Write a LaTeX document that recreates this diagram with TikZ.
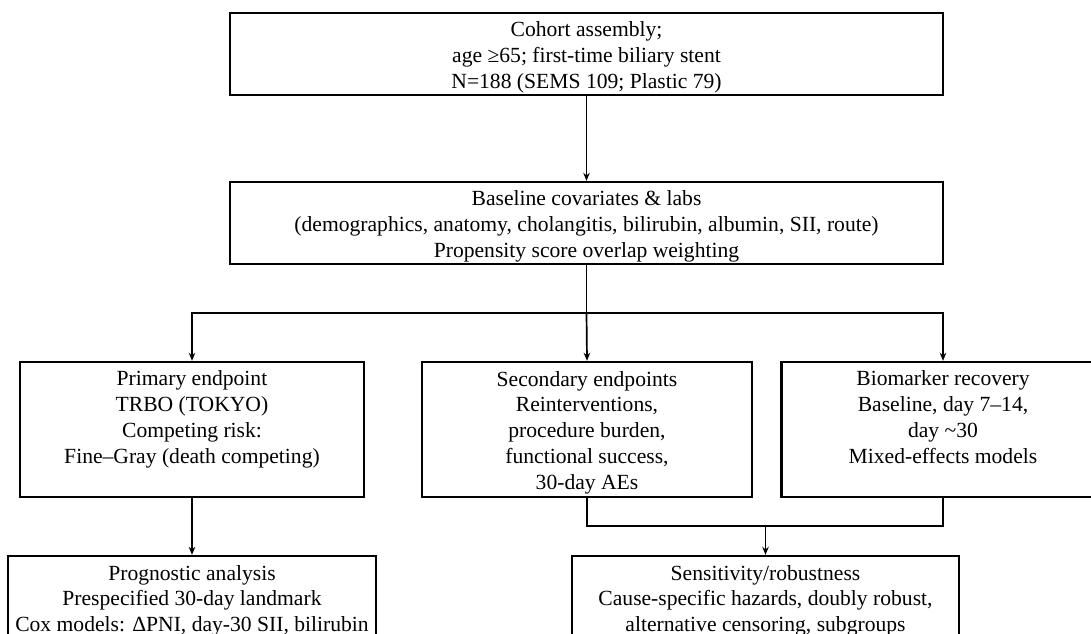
\documentclass[tikz,border=0pt]{standalone}
\usepackage{fontspec}
\setmainfont{Liberation Serif}
\usetikzlibrary{arrows.meta}
\begin{document}
\begin{tikzpicture}[x=1pt,y=-1pt,
  box/.style={draw, line width=2.4pt, rectangle, inner sep=0pt},
  txt/.style={align=center, font=\fontsize{21.6}{25.8}\selectfont, inner sep=0pt, anchor=north, yshift=-10pt},
  conn/.style={line width=1.7pt},
  arr/.style={conn, -{Stealth[length=8pt,width=6.5pt]}}]
\useasboundingbox (0,0) rectangle (1091,633);
\clip (0,0) rectangle (1091,633);
% boxes
\node[box, minimum width=713pt, minimum height=82pt] (cohort) at (586.5,54) {};
\node[box, minimum width=713pt, minimum height=82pt] (base) at (586.5,223) {};
\node[box, minimum width=344.5pt, minimum height=135pt] (prim) at (192,429.5) {};
\node[box, minimum width=329.5pt, minimum height=135pt] (sec) at (587,429.5) {};
\node[box, minimum width=323pt, minimum height=135pt] (bio) at (943,429.5) {};
\node[box, minimum width=368pt, minimum height=150pt] (prog) at (192,631) {};
\node[box, minimum width=387pt, minimum height=150pt] (sens) at (765.5,631) {};
% texts
\node[txt] (tcohort) at (cohort.north) {Cohort assembly;\\age ≥65; first-time biliary stent\\N=188 (SEMS 109; Plastic 79)};
\node[txt] (tbase) at (base.north) {Baseline covariates \& labs\\(demographics, anatomy, cholangitis, bilirubin, albumin, SII, route)\\Propensity score overlap weighting};
\node[txt] (tprim) at (prim.north) {Primary endpoint\\TRBO (TOKYO)\\Competing risk:\\Fine–Gray (death competing)};
\node[txt] (tsec) at (sec.north) {Secondary endpoints\\Reinterventions,\\procedure burden,\\functional success,\\30-day AEs};
\node[txt] (tbio) at (bio.north) {Biomarker recovery\\Baseline, day 7–14,\\day \textasciitilde30\\Mixed-effects models};
\node[txt] (tprog) at (prog.north) {Prognostic analysis\\Prespecified 30-day landmark\\Cox models: ΔPNI, day-30 SII, bilirubin};
\node[txt] (tsens) at (sens.north) {Sensitivity/robustness\\Cause-specific hazards, doubly robust,\\alternative censoring, subgroups};
% connectors
\coordinate (br) at (586.5,313);
\coordinate (mg) at (765.5,526);
\draw[arr] (cohort.south) -- (base.north);
\draw[conn] (base.south) -- (br);
\draw[arr] (br) -- (sec.north);
\draw[arr] (br) -| (prim.north);
\draw[arr] (br) -| (bio.north);
\draw[conn] (sec.south) |- (mg);
\draw[conn] (bio.south) |- (mg);
\draw[arr] (mg) -- (sens.north);
\draw[arr] (prim.south) -- (prog.north);
\end{tikzpicture}
\end{document}
